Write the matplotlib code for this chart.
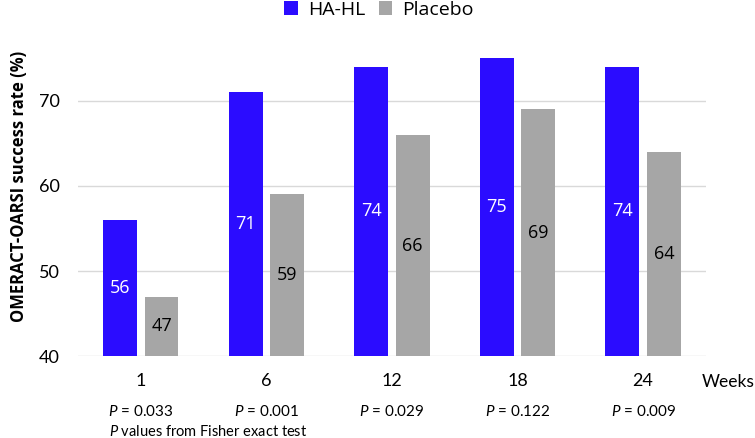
import matplotlib
matplotlib.use("Agg")
import matplotlib.pyplot as plt
import matplotlib.transforms as mtransforms
import numpy as np

# Data
weeks = ["1", "6", "12", "18", "24"]
ha_hl = [56, 71, 74, 75, 74]
placebo = [47, 59, 66, 69, 64]
p_values = ["0.033", "0.001", "0.029", "0.122", "0.009"]

BLUE = "#2B0CFF"
GRAY = "#A6A6A6"

plt.rcParams['font.family'] = ['Lato', 'DejaVu Sans']
plt.rcParams['mathtext.fontset'] = 'custom'
plt.rcParams['mathtext.it'] = 'Lato:italic'
plt.rcParams['mathtext.rm'] = 'Lato'

fig = plt.figure(figsize=(7.55, 4.38), dpi=100)
ax = fig.add_axes([0.1033, 0.1872, 0.8317, 0.7763])

x = np.arange(len(weeks))
width = 0.27
off = 0.165

bars_a = ax.bar(x - off, ha_hl, width, color=BLUE, label="HA-HL", zorder=2)
bars_b = ax.bar(x + off, placebo, width, color=GRAY, label="Placebo", zorder=2)

# value labels in the middle of each bar
for rect, v in zip(bars_a, ha_hl):
    ax.text(rect.get_x() + rect.get_width() / 2, (40 + v) / 2, str(v),
            ha="center", va="center", color="white", fontsize=13,
            family=["Open Sans", "DejaVu Sans"])
for rect, v in zip(bars_b, placebo):
    ax.text(rect.get_x() + rect.get_width() / 2, (40 + v) / 2, str(v),
            ha="center", va="center", color="black", fontsize=13,
            family=["Open Sans", "DejaVu Sans"])

ax.set_xlim(-0.5, len(weeks) - 0.5)
ax.set_ylim(40, 80)
ax.set_yticks([40, 50, 60, 70])
ax.set_xticks(x)
ax.set_xticklabels(weeks)
ax.tick_params(axis="x", length=0, pad=12, labelsize=13)
ax.tick_params(axis="y", length=0, pad=13, labelsize=13)

ax.grid(axis="y", color="#D9D9D9", linewidth=1, zorder=0)
ax.set_axisbelow(True)
for s in ax.spines.values():
    s.set_visible(False)

ax.set_ylabel("OMERACT-OARSI success rate (%)", fontsize=12, fontweight="bold",
              family=["Open Sans", "DejaVu Sans"], labelpad=8)

trans = mtransforms.blended_transform_factory(ax.transData, ax.transAxes)
for xi, p in zip(x, p_values):
    ax.text(xi, -0.162, "$\\mathit{P}$ = " + p, transform=trans,
            ha="center", va="center", fontsize=11)

ax.text(0.207, -0.222, "$\\mathit{P}$ values from Fisher exact test",
        transform=ax.transAxes, ha="center", va="center", fontsize=10.5)
ax.text(0.994, -0.0765, "Weeks", transform=ax.transAxes, ha="left",
        va="center", fontsize=12.5)

ax.legend(loc="center", bbox_to_anchor=(0.502, 0.978),
          bbox_transform=fig.transFigure, ncol=2, frameon=False,
          handlelength=0.7, handleheight=0.7, handletextpad=0.5,
          columnspacing=0.7,
          prop={'family': ['Open Sans', 'DejaVu Sans'], 'size': 14})

fig.savefig("out.png", dpi=100)
